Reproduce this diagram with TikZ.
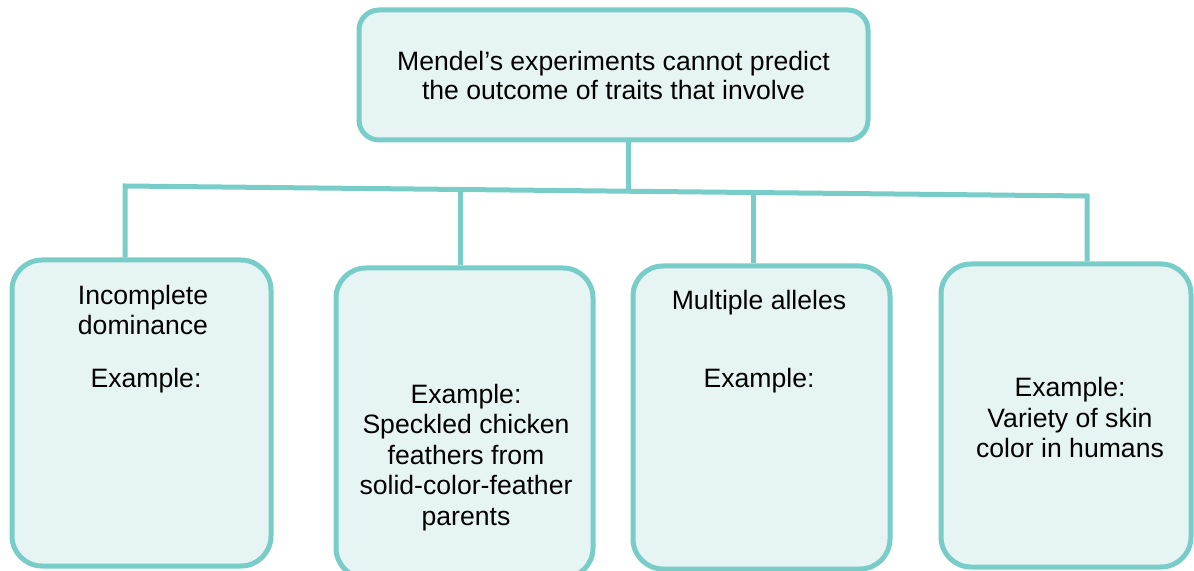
\documentclass[tikz,border=0pt]{standalone}
\usepackage{fontspec}
\setmainfont{Liberation Sans}
\usetikzlibrary{calc}
\definecolor{tealline}{HTML}{78CDC8}
\definecolor{tealfill}{HTML}{E6F5F4}
\tikzset{
  topbox/.style={draw=tealline, fill=tealfill, line width=2.5pt, rounded corners=10pt,
    align=center, font=\fontsize{13.3}{14.5}\selectfont, minimum width=254.5pt, minimum height=65pt},
  traitbox/.style={draw=tealline, fill=tealfill, line width=2.5pt, rounded corners=15pt,
    inner sep=0pt},
  traittext/.style={align=center, inner sep=0pt, font=\fontsize{13.3}{15.2}\selectfont},
  link/.style={draw=tealline, line width=2.5pt, line join=miter}
}
\begin{document}
\begin{tikzpicture}[x=0.5pt,y=-0.5pt]
  \useasboundingbox (0,0) rectangle (1194,571);
  % top statement
  \node[topbox] (top) at (613.5,75) {Mendel’s experiments cannot predict\\the outcome of traits that involve};
  % four trait boxes
  \node[traitbox, minimum width=129.5pt, minimum height=153pt] (b1) at (141.5,413) {};
  \node[traitbox, minimum width=128.5pt, minimum height=155pt] (b2) at (464.5,423) {};
  \node[traitbox, minimum width=128.5pt, minimum height=151.5pt] (b3) at (761.5,417.5) {};
  \node[traitbox, minimum width=125pt, minimum height=151.5pt] (b4) at (1066,415.5) {};
  % texts
  \node[traittext] (t1) at (143,310) {Incomplete\\dominance};
  \node[traittext] (t1ex) at (146,381) {Example:};
  \node[traittext] (t2) at (466,457.5) {Example:\\Speckled chicken\\feathers from\\solid-color-feather\\parents};
  \node[traittext] (t3) at (759,303) {Multiple alleles};
  \node[traittext] (t3ex) at (759,381) {Example:};
  \node[traittext] (t4) at (1070,417.5) {Example:\\Variety of skin\\color in humans};
  % connectors
  \coordinate (barL) at (125,186);
  \coordinate (barR) at (1087,196);
  \draw[link] (b1.north -| barL) -- (barL) -- (barR) -- (b4.north -| barR);
  \foreach \bx/\bn in {461/b2, 753/b3} {
    \coordinate (j\bn) at ($(barL)!{(\bx-125)/962}!(barR)$);
    \draw[link] (j\bn) -- (j\bn |- \bn.north);
  }
  \coordinate (jtop) at ($(barL)!{(629-125)/962}!(barR)$);
  \draw[link] (jtop |- top.south) -- (jtop);
\end{tikzpicture}
\end{document}
